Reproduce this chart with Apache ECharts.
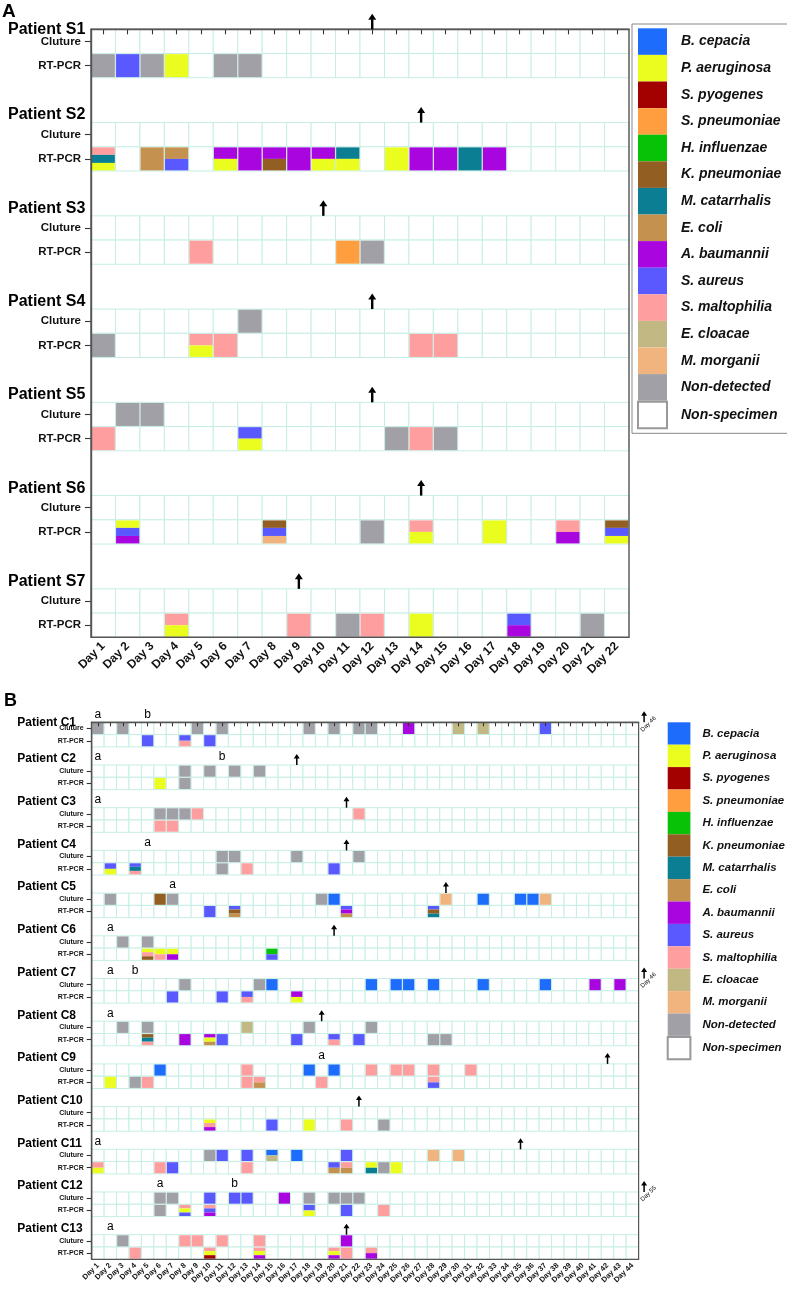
<!DOCTYPE html>
<html><head><meta charset="utf-8">
<script src="https://cdn.jsdelivr.net/npm/echarts@6/dist/echarts.min.js"></script>
<style>html,body{margin:0;padding:0;background:#fff;}#c{width:787px;height:1293px;}</style>
</head><body><div id="c"></div>
<script>
// ================= DATA =================
const speciesNames = ['B. cepacia','P. aeruginosa','S. pyogenes','S. pneumoniae','H. influenzae','K. pneumoniae','M. catarrhalis','E. coli','A. baumannii','S. aureus','S. maltophilia','E. cloacae','M. morganii','Non-detected','Non-specimen'];
const speciesCodes = ['BC','PA','SPY','SPN','HI','KP','MC','EC','AB','SA','SM','ECL','MM','ND','NS'];
const speciesColors = ['#1d6cfb','#ebfd1e','#a30000','#ff9e3e','#07c207','#935e22','#0b7e93','#c5914f','#a905de','#5a58ff','#ff9e9e','#c2b884','#f2b47f','#a0a0a6','#ffffff'];
const rowLabels = ['Cluture','RT-PCR'];

// Panel A
const daysA = ['Day 1','Day 2','Day 3','Day 4','Day 5','Day 6','Day 7','Day 8','Day 9','Day 10','Day 11','Day 12','Day 13','Day 14','Day 15','Day 16','Day 17','Day 18','Day 19','Day 20','Day 21','Day 22'];
const patientsA = ['Patient S1','Patient S2','Patient S3','Patient S4','Patient S5','Patient S6','Patient S7'];
const arrowDayA = [12,14,10,12,12,14,9];
const cultureA = [
  [],
  [],
  [],
  [[7,['ND']]],
  [[2,['ND']],[3,['ND']]],
  [],
  []
];
const pcrA = [
  [[1,['ND']],[2,['SA']],[3,['ND']],[4,['PA']],[6,['ND']],[7,['ND']]],
  [[1,['SM','MC','PA']],[3,['EC']],[4,['EC','SA']],[6,['AB','PA']],[7,['AB']],[8,['AB','KP']],[9,['AB']],[10,['AB','PA']],[11,['MC','PA']],[13,['PA']],[14,['AB']],[15,['AB']],[16,['MC']],[17,['AB']]],
  [[5,['SM']],[11,['SPN']],[12,['ND']]],
  [[1,['ND']],[5,['SM','PA']],[6,['SM']],[14,['SM']],[15,['SM']]],
  [[1,['SM']],[7,['SA','PA']],[13,['ND']],[14,['SM']],[15,['ND']]],
  [[2,['PA','SA','AB']],[8,['KP','SA','MM']],[12,['ND']],[14,['SM','PA']],[17,['PA']],[20,['SM','AB']],[22,['KP','SA','PA']]],
  [[4,['SM','PA']],[9,['SM']],[11,['ND']],[12,['SM']],[14,['PA']],[18,['SA','AB']],[21,['ND']]]
];

// Panel B
const daysB = ['Day 1','Day 2','Day 3','Day 4','Day 5','Day 6','Day 7','Day 8','Day 9','Day 10','Day 11','Day 12','Day 13','Day 14','Day 15','Day 16','Day 17','Day 18','Day 19','Day 20','Day 21','Day 22','Day 23','Day 24','Day 25','Day 26','Day 27','Day 28','Day 29','Day 30','Day 31','Day 32','Day 33','Day 34','Day 35','Day 36','Day 37','Day 38','Day 39','Day 40','Day 41','Day 42','Day 43','Day 44'];
const patientsB = ['Patient C1','Patient C2','Patient C3','Patient C4','Patient C5','Patient C6','Patient C7','Patient C8','Patient C9','Patient C10','Patient C11','Patient C12','Patient C13'];
const arrowDayB = [46,17,21,21,29,20,46,19,42,22,35,55,21];
const letterB = [
  [[1,'a'],[5,'b']],
  [[1,'a'],[11,'b']],
  [[1,'a']],
  [[5,'a']],
  [[7,'a']],
  [[2,'a']],
  [[2,'a'],[4,'b']],
  [[2,'a']],
  [[19,'a']],
  [],
  [[1,'a']],
  [[6,'a'],[12,'b']],
  [[2,'a']]
];
const cultureB = [
  [[1,['ND']],[3,['ND']],[9,['ND']],[11,['ND']],[18,['ND']],[20,['ND']],[22,['ND']],[23,['ND']],[26,['AB']],[30,['ECL']],[32,['ECL']],[37,['SA']]],
  [[8,['ND']],[10,['ND']],[12,['ND']],[14,['ND']]],
  [[6,['ND']],[7,['ND']],[8,['ND']],[9,['SM']],[22,['SM']]],
  [[11,['ND']],[12,['ND']],[17,['ND']],[22,['ND']]],
  [[2,['ND']],[6,['KP']],[7,['ND']],[19,['ND']],[20,['BC']],[29,['MM']],[32,['BC']],[35,['BC']],[36,['BC']],[37,['MM']]],
  [[3,['ND']],[5,['ND']]],
  [[8,['ND']],[14,['ND']],[15,['BC']],[23,['BC']],[25,['BC']],[26,['BC']],[28,['BC']],[32,['BC']],[37,['BC']],[41,['AB']],[43,['AB']]],
  [[3,['ND']],[5,['ND']],[13,['ECL']],[18,['ND']],[23,['ND']]],
  [[6,['BC']],[13,['SM']],[18,['BC']],[20,['BC']],[23,['SM']],[25,['SM']],[26,['SM']],[28,['SM']],[31,['SM']]],
  [],
  [[10,['ND']],[11,['SA']],[13,['SA']],[15,['BC','ECL']],[17,['BC']],[21,['SA']],[28,['MM']],[30,['MM']]],
  [[6,['ND']],[7,['ND']],[10,['SA']],[12,['SA']],[13,['SA']],[16,['AB']],[18,['ND']],[20,['ND']],[21,['ND']],[22,['ND']]],
  [[3,['ND']],[8,['SM']],[9,['SM']],[11,['SM']],[14,['SM']],[21,['AB']]]
];
const pcrB = [
  [[5,['SA']],[8,['SA','SM']],[10,['SA']]],
  [[6,['PA']],[8,['ND']]],
  [[6,['SM']],[7,['SM']]],
  [[2,['SA','PA']],[4,['SA','MC','SM']],[11,['ND']],[13,['SM']],[20,['SA']]],
  [[10,['SA']],[12,['SA','KP','EC']],[21,['SA','AB','EC']],[28,['SA','KP','MC']]],
  [[5,['PA','SM','KP']],[6,['PA','SM']],[7,['PA','AB']],[15,['HI','SA']]],
  [[7,['SA']],[11,['SA']],[13,['SA','SM']],[17,['AB','PA']]],
  [[5,['KP','MC','SM']],[8,['AB']],[10,['AB','PA','EC']],[11,['SA']],[17,['SA']],[20,['SA','SM']],[22,['SA']],[28,['ND']],[29,['ND']]],
  [[2,['PA']],[4,['ND']],[5,['SM']],[13,['SM']],[14,['SM','EC']],[19,['SM']],[28,['SM','SA']]],
  [[10,['PA','SM','AB']],[15,['SA']],[18,['PA']],[21,['SM']],[24,['ND']]],
  [[1,['SM','PA']],[6,['SM']],[7,['SA']],[13,['SM']],[20,['SA','EC']],[21,['SM','EC']],[23,['PA','MC']],[24,['ND']],[25,['PA']]],
  [[6,['ND']],[8,['SM','PA','SA']],[10,['SM','SA','AB']],[18,['SA','PA']],[21,['SA']],[24,['SM']]],
  [[4,['SM']],[10,['SM','PA','SPY']],[14,['SM','PA','AB']],[20,['SM','PA','AB']],[21,['SM']],[23,['SM','AB']]]
];

// ================= LAYOUT =================
const FONT = '"Liberation Sans", Arial, Helvetica, sans-serif';
const GRIDLINE = '#c6eee5';
const PA = 3.85;  // row period (in row heights) for panel A
const PB = 3.47;  // row period for panel B
const yMaxA = (patientsA.length - 1) * PA + 2;
const yMaxB = (patientsB.length - 1) * PB + 2;

function buildCells(patients, culture, pcr, nDays, period) {
  const bg = [], seg = [];
  patients.forEach((_, p) => {
    for (let r = 0; r < 2; r++) {
      const top = p * period + r;
      for (let d = 0; d < nDays; d++) bg.push([d, top, top + 1]);
      (r === 0 ? culture : pcr)[p].forEach(([day, codes]) => {
        const n = codes.length;
        codes.forEach((c, k) => seg.push([day - 1, top + k / n, top + (k + 1) / n, speciesCodes.indexOf(c), k === 0 ? 1 : 0, k === n - 1 ? 1 : 0]));
      });
    }
  });
  return { bg, seg };
}
function rowCenters(n, period) {
  const out = [];
  for (let p = 0; p < n; p++) out.push(p * period + 0.5, p * period + 1.5);
  return out;
}
function rowFormatter(period) {
  return v => { const r = v - Math.floor(v / period + 1e-9) * period; return r < 1 ? rowLabels[0] : rowLabels[1]; };
}

const cellsA = buildCells(patientsA, cultureA, pcrA, daysA.length, PA);
const cellsB = buildCells(patientsB, cultureB, pcrB, daysB.length, PB);

const annotsA = [];
patientsA.forEach((name, p) => {
  annotsA.push({ kind: 'label', text: name, day: 1, y: p * PA });
  annotsA.push({ kind: 'arrow', day: arrowDayA[p], y: p * PA });
});
const annotsB = [];
patientsB.forEach((name, p) => {
  annotsB.push({ kind: 'label', text: name, day: 1, y: p * PB });
  annotsB.push({ kind: 'arrow', day: arrowDayB[p], y: p * PB });
  letterB[p].forEach(([d, t]) => annotsB.push({ kind: 'letter', text: t, day: d, y: p * PB }));
});

function renderBg(params, api) {
  const d = api.value(0);
  const bw = api.size([1, 0])[0];
  const p0 = api.coord([d, api.value(1)]);
  const p1 = api.coord([d, api.value(2)]);
  return { type: 'rect', shape: { x: p0[0] - bw / 2, y: p0[1], width: bw, height: p1[1] - p0[1] },
    style: { fill: '#fff', stroke: GRIDLINE, lineWidth: 1 } };
}
function renderSeg(params, api) {
  const d = api.value(0);
  const bw = api.size([1, 0])[0];
  const p0 = api.coord([d, api.value(1)]);
  const p1 = api.coord([d, api.value(2)]);
  const ins = 0.6;
  const y0 = p0[1] + (api.value(4) ? ins : 0);
  const y1 = p1[1] - (api.value(5) ? ins : 0);
  return { type: 'rect', shape: { x: p0[0] - bw / 2 + ins, y: y0, width: bw - 2 * ins, height: y1 - y0 },
    style: { fill: speciesColors[api.value(3)] } };
}
function makeAnnotRender(annots, cfg, nDays) {
  return function (params, api) {
    const a = annots[params.dataIndex];
    const bw = api.size([1, 0])[0];
    const base = api.coord([Math.min(a.day, nDays) - 1, a.y]);
    const origin = api.coord([0, 0]);
    const gridLeft = origin[0] - bw / 2;
    const gridTop = origin[1];
    if (a.kind === 'arrow') {
      const out = a.day > nDays;
      const x = out ? base[0] + bw / 2 + cfg.outOffset : base[0];
      const baseY = base[1];
      const tipY = baseY - cfg.arrowLen;
      const ch = [
        { type: 'line', shape: { x1: x, y1: tipY + cfg.headH - 0.5, x2: x, y2: baseY }, style: { stroke: '#000', lineWidth: cfg.lineW } },
        { type: 'polygon', shape: { points: [[x - cfg.headW, tipY + cfg.headH], [x + cfg.headW, tipY + cfg.headH], [x, tipY]] }, style: { fill: '#000' } }
      ];
      if (out) ch.push({ type: 'text', x: x + 11, y: tipY + 6, rotation: Math.PI / 4,
        style: { text: 'Day ' + a.day, fontSize: 6, fontFamily: FONT, fill: '#000', align: 'right', verticalAlign: 'middle' } });
      return { type: 'group', children: ch };
    }
    if (a.kind === 'label') {
      const y = Math.max(base[1] - cfg.labelDy, gridTop);
      return { type: 'text', x: gridLeft - cfg.labelDx, y: y,
        style: { text: a.text, fontSize: cfg.labelSize, fontWeight: 'bold', fontFamily: FONT, fill: '#000', align: 'left', verticalAlign: 'middle' } };
    }
    return { type: 'text', x: base[0], y: base[1] - cfg.letterDy,
      style: { text: a.text, fontSize: cfg.letterSize, fontFamily: FONT, fill: '#000', align: 'center', verticalAlign: 'middle' } };
  };
}

const cfgA = { arrowLen: 15.5, headW: 4, headH: 6, lineW: 2.4, outOffset: 6, labelDx: 83, labelDy: 7.5, labelSize: 16, letterDy: 8, letterSize: 12 };
const cfgB = { arrowLen: 11, headW: 3, headH: 4.5, lineW: 1.5, outOffset: 5.5, labelDx: 74.4, labelDy: 6, labelSize: 12, letterDy: 8, letterSize: 12 };

function xAxisCfg(grid, data, size, margin, tick) {
  return { type: 'category', gridIndex: grid, data: data, boundaryGap: true, position: 'bottom', z: 6,
    axisLine: { show: true, lineStyle: { color: '#555', width: 1.4 } },
    axisTick: { show: true, alignWithLabel: true, interval: 0, length: tick, lineStyle: { color: '#333', width: 1.1 } },
    axisLabel: { interval: 0, rotate: 45, fontSize: size, fontWeight: 'bold', color: '#111', fontFamily: FONT, margin: margin },
    splitLine: { show: false } };
}
function yAxisCfg(grid, max, centers, period, size, margin, tick) {
  return { type: 'value', gridIndex: grid, inverse: true, min: 0, max: max, z: 6,
    axisLine: { show: true, lineStyle: { color: '#555', width: 1.4 } },
    axisTick: { show: true, customValues: centers, length: tick, lineStyle: { color: '#333', width: 1.1 } },
    axisLabel: { show: true, customValues: centers, formatter: rowFormatter(period), fontSize: size, fontWeight: 'bold', color: '#111', fontFamily: FONT, margin: margin },
    splitLine: { show: false } };
}

const legendSeries = speciesNames.map((n, i) => ({
  name: n, type: 'bar', xAxisIndex: 0, yAxisIndex: 0, data: [],
  itemStyle: i === speciesNames.length - 1 ? { color: '#fff', borderColor: '#999', borderWidth: 1 } : { color: speciesColors[i] }
}));

const chart = echarts.init(document.getElementById('c'), null, { renderer: 'canvas' });
chart.setOption({
  animation: false,
  backgroundColor: '#fff',
  textStyle: { fontFamily: FONT },
  graphic: [
    { type: 'text', left: 2, top: 2, style: { text: 'A', fontSize: 19, fontWeight: 'bold', fontFamily: FONT, fill: '#000' } },
    { type: 'text', left: 4, top: 692, style: { text: 'B', fontSize: 18, fontWeight: 'bold', fontFamily: FONT, fill: '#000' } }
  ],
  grid: [
    { left: 91, top: 29.3, width: 538, height: 608, show: true, borderColor: '#555', borderWidth: 1.4, backgroundColor: 'transparent', z: 10 },
    { left: 91.7, top: 722.3, width: 546.9, height: 537, show: true, borderColor: '#555', borderWidth: 1.2, backgroundColor: 'transparent', z: 10 }
  ],
  xAxis: [ xAxisCfg(0, daysA, 12, 7, 5), xAxisCfg(1, daysB, 7.5, 5, 4) ],
  yAxis: [ yAxisCfg(0, yMaxA, rowCenters(patientsA.length, PA), PA, 11.5, 10, 6),
           yAxisCfg(1, yMaxB, rowCenters(patientsB.length, PB), PB, 7, 8, 5) ],
  legend: [
    { data: speciesNames, orient: 'vertical', left: 632, top: 24, padding: [4.3, 11, 4, 5], itemGap: 0,
      itemWidth: 29, itemHeight: 26.6, icon: 'rect', selectedMode: false, borderColor: '#888', borderWidth: 1,
      textStyle: { fontSize: 14, fontWeight: 'bold', fontStyle: 'italic', color: '#111', fontFamily: FONT, padding: [0, 0, 0, 9] } },
    { data: speciesNames, orient: 'vertical', left: 666.7, top: 722.3, padding: 0, itemGap: 0,
      itemWidth: 22.7, itemHeight: 22.4, icon: 'rect', selectedMode: false,
      textStyle: { fontSize: 11.5, fontWeight: 'bold', fontStyle: 'italic', color: '#111', fontFamily: FONT, padding: [0, 0, 0, 7] } }
  ],
  series: [
    { type: 'custom', xAxisIndex: 0, yAxisIndex: 0, data: cellsA.bg, renderItem: renderBg, silent: true, z: 1 },
    { type: 'custom', xAxisIndex: 0, yAxisIndex: 0, data: cellsA.seg, renderItem: renderSeg, silent: true, z: 2 },
    { type: 'custom', xAxisIndex: 0, yAxisIndex: 0, data: annotsA.map(a => [Math.min(a.day, daysA.length) - 1, a.y]), renderItem: makeAnnotRender(annotsA, cfgA, daysA.length), silent: true, z: 12, clip: false },
    { type: 'custom', xAxisIndex: 1, yAxisIndex: 1, data: cellsB.bg, renderItem: renderBg, silent: true, z: 1 },
    { type: 'custom', xAxisIndex: 1, yAxisIndex: 1, data: cellsB.seg, renderItem: renderSeg, silent: true, z: 2 },
    { type: 'custom', xAxisIndex: 1, yAxisIndex: 1, data: annotsB.map(a => [Math.min(a.day, daysB.length) - 1, a.y]), renderItem: makeAnnotRender(annotsB, cfgB, daysB.length), silent: true, z: 12, clip: false }
  ].concat(legendSeries)
});
</script></body></html>
